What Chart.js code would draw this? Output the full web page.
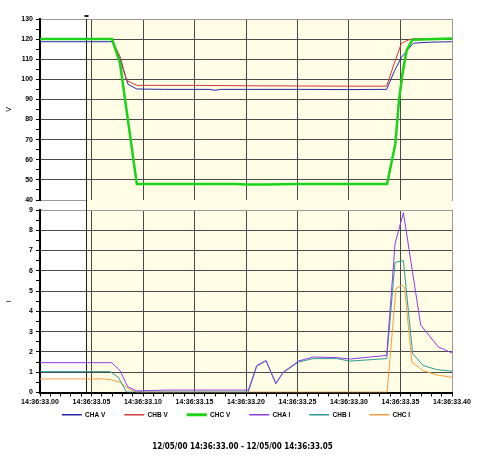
<!DOCTYPE html>
<html>
<head>
<meta charset="utf-8">
<script src="https://cdn.jsdelivr.net/npm/chart.js@4.4.0/dist/chart.umd.min.js"></script>
<style>
  html, body { margin: 0; padding: 0; background: #fff; }
  #wrap { position: relative; width: 500px; height: 457px; }
  .box { position: absolute; left: 0; width: 500px; }
  #vBox { top: 0; height: 210px; }
  #iBox { top: 200px; height: 257px; }
  #caption {
    position: absolute; left: 0; top: 442px; width: 485px; text-align: center;
    font: bold 8px 'DejaVu Sans Condensed', 'Liberation Sans', sans-serif; color: #000;
  }
</style>
</head>
<body>
<div id="wrap">
  <div class="box" id="vBox"><canvas id="vChart"></canvas></div>
  <div class="box" id="iBox"><canvas id="iChart"></canvas></div>
  <div id="caption">12/05/00 14:36:33.00 - 12/05/00 14:36:33.05</div>
</div>
<script>
// seconds after 14:36:33.00
const cursorAt = 0.0444;

const seriesNames = ["CHA V", "CHB V", "CHC V", "CHA I", "CHB I", "CHC I"];
const seriesColors = ["#2828a8", "#d03a3a", "#19d419", "#8c3ce6", "#2e9a90", "#f0a040"];
const seriesWidths = [1, 1, 2.5, 1, 1, 1];

// voltages
const chaVTime = [0, 0.07, 0.077, 0.0855, 0.094, 0.12, 0.165, 0.17, 0.175, 0.2, 0.25, 0.3, 0.3365, 0.344, 0.351, 0.3625, 0.38, 0.4];
const chaV = [118.7, 118.7, 111, 97.5, 95.2, 95, 95, 94.5, 95, 95, 95, 94.9, 95, 104, 111, 118, 118.5, 118.7];
const chbVTime = [0, 0.07, 0.078, 0.084, 0.094, 0.15, 0.2, 0.25, 0.3, 0.3365, 0.344, 0.351, 0.358, 0.362, 0.4];
const chbV = [119.8, 119.8, 111, 99.5, 97, 97, 96.8, 96.7, 96.6, 96.6, 108, 118, 119.6, 120.2, 120.2];
const chcVTime = [0, 0.07, 0.0777, 0.094, 0.15, 0.19, 0.2, 0.22, 0.25, 0.3, 0.337, 0.345, 0.3485, 0.352, 0.356, 0.3615, 0.4];
const chcV = [120, 120, 108, 48, 48, 48, 47.7, 47.7, 48, 48, 48, 68, 89.5, 103, 114.5, 119.7, 120.3];

// currents
const chaITime = [0, 0.0696, 0.0777, 0.0851, 0.0939, 0.123, 0.2023, 0.2104, 0.2195, 0.229, 0.236, 0.251, 0.265, 0.288, 0.301, 0.3366, 0.3447, 0.3528, 0.3696, 0.3867, 0.4];
const chaI = [1.47, 1.47, 1.08, 0.28, 0.08, 0.12, 0.12, 1.33, 1.58, 0.45, 1.0, 1.55, 1.75, 1.72, 1.65, 1.83, 7.33, 8.87, 3.33, 2.25, 1.95];
const chbITime = [0, 0.068, 0.076, 0.084, 0.2023, 0.2104, 0.2195, 0.229, 0.236, 0.251, 0.265, 0.288, 0.301, 0.3366, 0.3447, 0.3528, 0.3618, 0.372, 0.385, 0.4];
const chbI = [1.03, 1.03, 0.75, 0.02, 0.02, 1.3, 1.55, 0.43, 0.98, 1.5, 1.67, 1.67, 1.55, 1.67, 6.42, 6.5, 1.92, 1.33, 1.13, 1.05];
const chcITime = [0, 0.061, 0.07, 0.078, 0.086, 0.094, 0.337, 0.3456, 0.3518, 0.354, 0.361, 0.372, 0.385, 0.4];
const chcI = [0.67, 0.67, 0.62, 0.5, 0.17, 0.02, 0.02, 5.13, 5.3, 5.17, 1.5, 1.08, 0.87, 0.75];

const FONT = "'Liberation Sans', Arial, sans-serif";
const tickFont = { family: FONT, size: 7, weight: "bold" };
const legendFont = { family: FONT, size: 6.5, weight: "bold" };
const GRID = "#4a4a4a";
const GRID_EDGE = "#9a9a9a";
const PLOT_BG = "#fffde6";
const NONE = "rgba(0,0,0,0)";

Chart.defaults.animation = false;
Chart.defaults.font.family = FONT;
Chart.defaults.color = "#000";

const pts = (ts, vs) => ts.map((t, i) => ({ x: t, y: vs[i] }));

const line = (idx, ts, vs, order) => ({
  label: seriesNames[idx],
  data: pts(ts, vs),
  borderColor: seriesColors[idx],
  backgroundColor: seriesColors[idx],
  borderWidth: seriesWidths[idx],
  pointRadius: 0,
  tension: 0,
  order,
});

const timeLabel = (v) => {
  const c = Math.round(v * 100);
  return c % 5 === 0 ? "14:36:33." + String(c).padStart(2, "0") : "";
};

// yellow plot area right of the cursor, plus the cursor line
const shade = {
  id: "shade",
  beforeDraw(chart, args, opts) {
    const { ctx, chartArea: a, scales: { x } } = chart;
    const cx = Math.round(x.getPixelForValue(cursorAt));
    const top = opts.gapAbove ? 0 : a.top;
    const bottom = opts.gapBelow ? chart.height : a.bottom;
    ctx.save();
    ctx.fillStyle = PLOT_BG;
    ctx.fillRect(cx, top, a.right - cx, bottom - top);
    ctx.restore();
  },
  beforeDatasetsDraw(chart, args, opts) {
    const { ctx, chartArea: a, scales: { x } } = chart;
    const cx = Math.round(x.getPixelForValue(cursorAt)) + 0.5;
    const top = opts.gapAbove ? 0 : a.top;
    const bottom = opts.gapBelow ? chart.height : a.bottom;
    ctx.save();
    ctx.strokeStyle = "#222";
    ctx.lineWidth = 1;
    ctx.beginPath();
    ctx.moveTo(cx, top);
    ctx.lineTo(cx, bottom);
    ctx.stroke();
    if (opts.marker) {
      ctx.fillStyle = "#222";
      ctx.fillRect(cx - 2, a.top - 4, 4, 2);
    }
    ctx.restore();
  },
};

// pull the legend up closer to the axis labels
const legendNudge = {
  id: "legendNudge",
  afterLayout(chart, args, opts) {
    const l = chart.legend;
    if (!l) return;
    l.top -= opts.dy;
    l.bottom -= opts.dy;
  },
};

const xGrid = (c) => {
  const v = Math.round(c.tick.value * 100);
  if (v % 5 !== 0) return NONE;
  return v === 40 ? GRID_EDGE : GRID;
};

const yAxis = (min, max, step, title, width, titlePad) => ({
  min,
  max,
  afterFit: (s) => { s.width = width; },
  ticks: {
    stepSize: step / 2,
    autoSkip: false,
    font: tickFont,
    color: "#000",
    padding: 3,
    callback: (v) => (Math.abs(v % step) < 1e-6 ? v : ""),
  },
  grid: {
    color: (c) => {
      const v = c.tick.value;
      if (Math.abs(v % step) > 1e-6) return NONE;
      return v === max ? GRID_EDGE : GRID;
    },
    tickColor: "#000",
    tickLength: 4,
  },
  border: { color: "#000", width: 2 },
  title: { display: true, text: title, color: "#000", font: { family: FONT, size: 7 }, padding: { top: titlePad } },
});

new Chart(document.getElementById("vChart"), {
  type: "line",
  data: {
    datasets: [
      line(0, chaVTime, chaV, 2),
      line(1, chbVTime, chbV, 1),
      line(2, chcVTime, chcV, 0),
    ],
  },
  options: {
    responsive: true,
    maintainAspectRatio: false,
    layout: { padding: { top: 19, right: 48, bottom: 10, left: 0 } },
    plugins: {
      legend: { display: false },
      tooltip: { enabled: false },
      shade: { gapBelow: true, marker: true },
    },
    scales: {
      x: {
        type: "linear",
        min: 0,
        max: 0.4,
        afterFit: (s) => { s.height = 0; },
        ticks: { display: false, stepSize: 0.05 },
        grid: { color: xGrid, drawTicks: false },
        border: { color: GRID_EDGE, width: 1 },
      },
      y: yAxis(40, 130, 10, "V", 40, 5),
    },
  },
  plugins: [shade],
});

new Chart(document.getElementById("iChart"), {
  type: "line",
  data: {
    datasets: [
      line(3, chaITime, chaI, 0),
      line(4, chbITime, chbI, 1),
      line(5, chcITime, chcI, 2),
    ],
  },
  options: {
    responsive: true,
    maintainAspectRatio: false,
    layout: { padding: { top: 10, right: 48, bottom: 16, left: 20 } },
    plugins: {
      tooltip: { enabled: false },
      shade: { gapAbove: true },
      legendNudge: { dy: 13 },
      legend: {
        position: "bottom",
        onClick: null,
        labels: {
          usePointStyle: true,
          pointStyle: "line",
          pointStyleWidth: 20,
          padding: 19,
          color: "#000",
          font: legendFont,
          generateLabels: () =>
            seriesNames.map((name, i) => ({
              text: name,
              strokeStyle: seriesColors[i],
              fillStyle: seriesColors[i],
              lineWidth: seriesWidths[i] + 0.5,
              pointStyle: "line",
              hidden: false,
              datasetIndex: i,
            })),
        },
      },
    },
    scales: {
      x: {
        type: "linear",
        min: 0,
        max: 0.4,
        afterFit: (s) => { s.height = 13; },
        ticks: {
          stepSize: 0.01,
          autoSkip: false,
          maxRotation: 0,
          font: tickFont,
          color: "#000",
          padding: 1,
          callback: timeLabel,
        },
        grid: { color: xGrid, tickColor: "#000", tickLength: 4 },
        border: { color: "#000", width: 2 },
      },
      y: yAxis(0, 9, 1, "I", 20, -15),
    },
  },
  plugins: [shade, legendNudge],
});
</script>
</body>
</html>
